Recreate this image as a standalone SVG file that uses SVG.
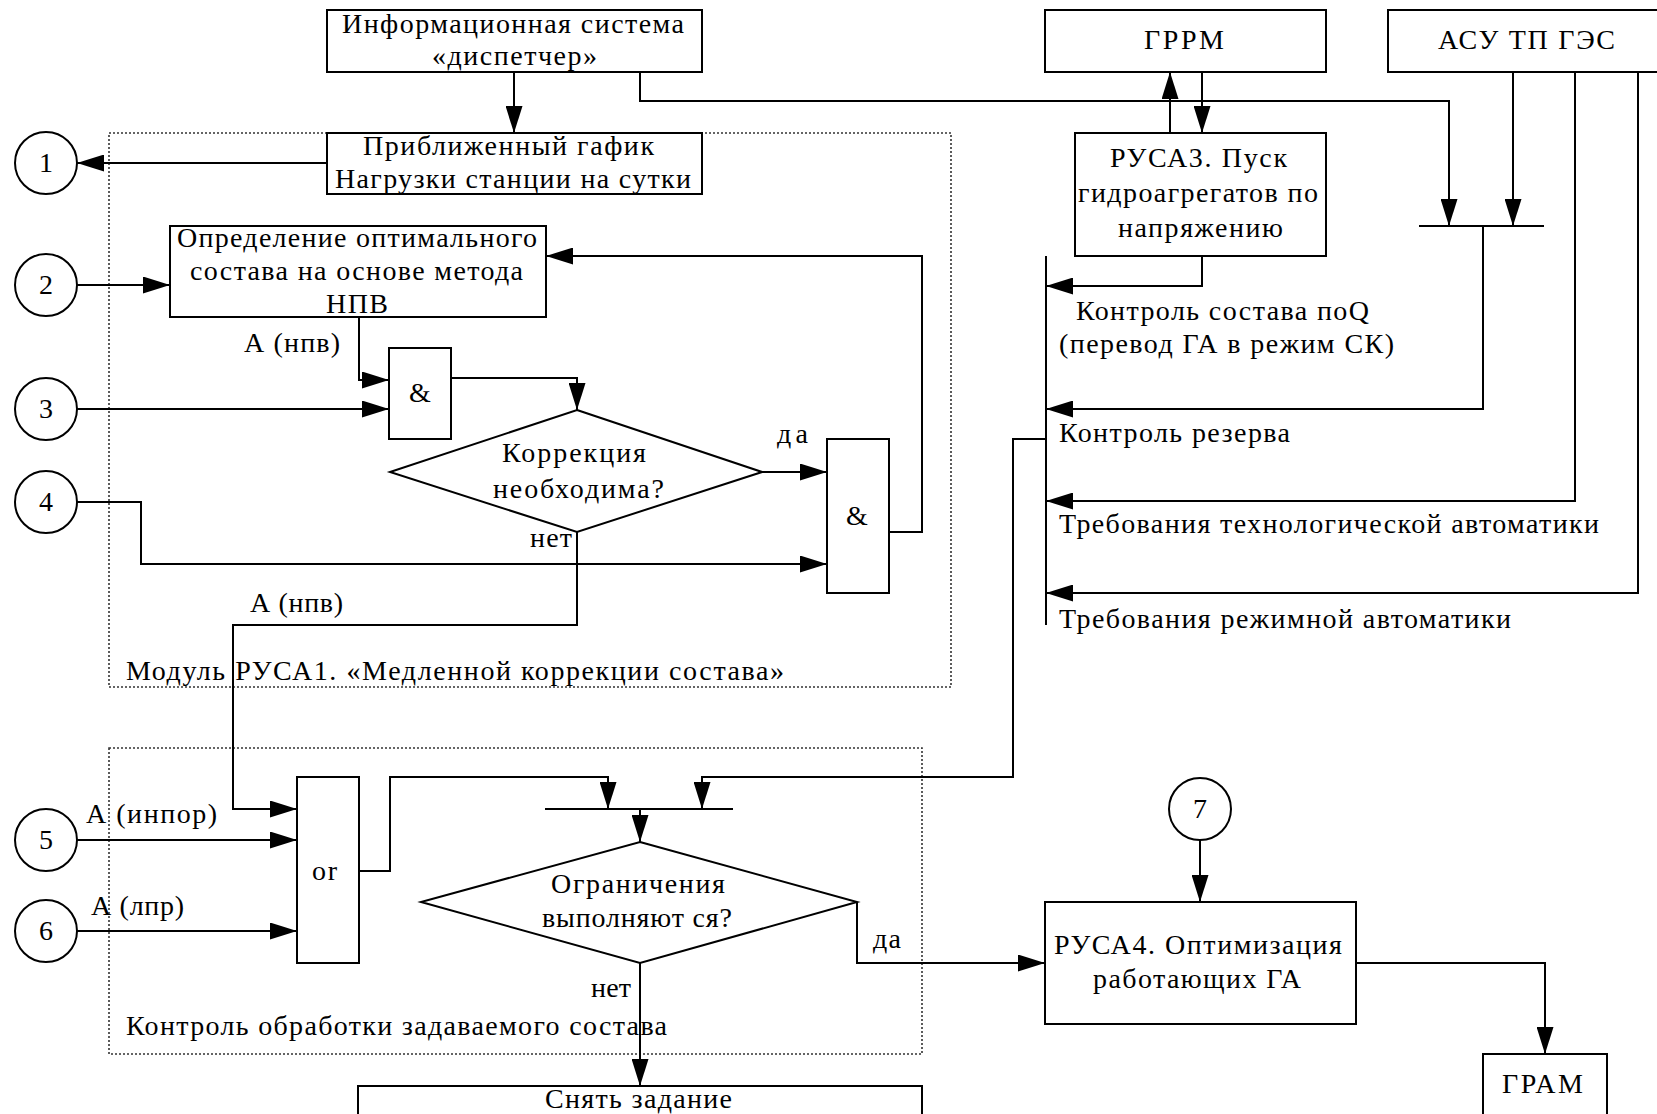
<svg xmlns="http://www.w3.org/2000/svg" width="1657" height="1114" viewBox="0 0 1657 1114">
  <style>
    .box { fill: #fff; stroke: #000; stroke-width: 2; }
    .frame { fill: none; stroke: #333; stroke-width: 1.6; stroke-dasharray: 2 2; }
    .ln { fill: none; stroke: #000; stroke-width: 2; }
    .arr { fill: none; stroke: #000; stroke-width: 2; marker-end: url(#ah); }
    text { font-family: "Liberation Serif", "Times New Roman", serif; font-size: 28px; fill: #000; }
    .c { text-anchor: middle; }
  </style>
  <defs>
    <marker id="ah" markerUnits="userSpaceOnUse" markerWidth="27" markerHeight="17" refX="27" refY="8.5" orient="auto">
      <path d="M0,0 L27,8.5 L0,17 z" fill="#000"/>
    </marker>
  </defs>
  <rect width="1657" height="1114" fill="#fff"/>

  <!-- dotted module frames -->
  <g id="module-rusa1">
    <rect class="frame" x="109" y="133" width="842" height="554"/>
    <text x="126" y="680" textLength="658">Модуль РУСА1.  «Медленной коррекции состава»</text>
  </g>
  <g id="module-control">
    <rect class="frame" x="109" y="748" width="813" height="306"/>
    <text x="126" y="1035" textLength="541">Контроль обработки задаваемого состава</text>
  </g>

  <!-- connectors -->
  <g id="connectors">
    <path class="arr" d="M514,72 V133"/>
    <path class="arr" d="M640,72 V101 H1449 V226"/>
    <path class="arr" d="M1513,72 V226"/>
    <path class="ln" d="M1419,226 H1544"/>
    <path class="arr" d="M1483,226 V409 H1046"/>
    <path class="arr" d="M1575,72 V501 H1046"/>
    <path class="arr" d="M1638,72 V593 H1046"/>
    <path class="ln" d="M1046,256 V625"/>
    <path class="arr" d="M1170,133 V72"/>
    <path class="arr" d="M1202,72 V133"/>
    <path class="arr" d="M1202,256 V286 H1046"/>
    <path class="arr" d="M1046,439 H1013 V777 H702 V809"/>
    <path class="arr" d="M327,163 H77"/>
    <path class="arr" d="M77,285 H170"/>
    <path class="arr" d="M359,317 V380 H389"/>
    <path class="arr" d="M77,409 H389"/>
    <path class="arr" d="M451,378 H577 V410"/>
    <path class="arr" d="M762,472 H827"/>
    <path class="arr" d="M77,502 H141 V564 H827"/>
    <path class="arr" d="M889,532 H922 V256 H546"/>
    <path class="arr" d="M577,532 V625 H233 V809 H297"/>
    <path class="arr" d="M77,840 H297"/>
    <path class="arr" d="M77,931 H297"/>
    <path class="arr" d="M359,871 H390 V777 H608 V809"/>
    <path class="ln" d="M545,809 H733"/>
    <path class="arr" d="M640,809 V842"/>
    <path class="arr" d="M857,902 V963 H1045"/>
    <path class="arr" d="M640,963 V1086"/>
    <path class="arr" d="M1200,840 V902"/>
    <path class="arr" d="M1356,963 H1545 V1054"/>
  </g>

  <!-- connector labels -->
  <g id="labels">
    <text x="244" y="352" textLength="96">А (нпв)</text>
    <text x="777" y="443" textLength="31">да</text>
    <text x="530" y="547" textLength="42">нет</text>
    <text x="250" y="612" textLength="93">А (нпв)</text>
    <text x="86" y="823" textLength="131">А (инпор)</text>
    <text x="91" y="915" textLength="93">А (лпр)</text>
    <text x="873" y="948" textLength="28">да</text>
    <text x="591" y="997" textLength="40">нет</text>
    <text x="1076" y="320" textLength="293">Контроль состава поQ</text>
    <text x="1059" y="353" textLength="335">(перевод ГА в режим СК)</text>
    <text x="1059" y="442" textLength="231">Контроль резерва</text>
    <text x="1059" y="533" textLength="540">Требования технологической автоматики</text>
    <text x="1059" y="628" textLength="452">Требования режимной автоматики</text>
  </g>

  <g id="info-system">
    <rect class="box" x="327" y="10" width="375" height="62"/>
    <text x="342" y="33" textLength="342">Информационная система</text>
    <text x="432" y="65" textLength="165">«диспетчер»</text>
  </g>
  <g id="grrm">
    <rect class="box" x="1045" y="10" width="281" height="62"/>
    <text x="1144" y="49" textLength="80">ГРРМ</text>
  </g>
  <g id="asu-tp">
    <rect class="box" x="1388" y="10" width="300" height="62"/>
    <text x="1438" y="49" textLength="177">АСУ ТП ГЭС</text>
  </g>
  <g id="load-schedule">
    <rect class="box" x="327" y="133" width="375" height="61"/>
    <text x="363" y="155" textLength="291">Приближенный гафик</text>
    <text x="335" y="188" textLength="356">Нагрузки станции на сутки</text>
  </g>
  <g id="optimal-set">
    <rect class="box" x="170" y="226" width="376" height="91"/>
    <text x="177" y="247" textLength="360">Определение оптимального</text>
    <text x="190" y="280" textLength="333">состава на основе метода</text>
    <text x="326" y="313" textLength="62">НПВ</text>
  </g>
  <g id="rusa3">
    <rect class="box" x="1075" y="133" width="251" height="123"/>
    <text x="1110" y="167" textLength="177">РУСА3. Пуск</text>
    <text x="1078" y="202" textLength="240">гидроагрегатов по</text>
    <text x="1118" y="237" textLength="165">напряжению</text>
  </g>
  <g id="and-1">
    <rect class="box" x="389" y="348" width="62" height="91"/>
    <text class="c" x="420" y="402">&amp;</text>
  </g>
  <g id="decision-correction">
    <polygon class="box" points="577,410 762,472 577,532 390,472"/>
    <text x="502" y="462" textLength="144">Коррекция</text>
    <text x="493" y="498" textLength="171">необходима?</text>
  </g>
  <g id="and-2">
    <rect class="box" x="827" y="439" width="62" height="154"/>
    <text class="c" x="857" y="525">&amp;</text>
  </g>
  <g id="or-gate">
    <rect class="box" x="297" y="777" width="62" height="186"/>
    <text x="312" y="880" textLength="25">or</text>
  </g>
  <g id="decision-limits">
    <polygon class="box" points="640,842 857,902 640,963 421,902"/>
    <text x="551" y="893" textLength="174">Ограничения</text>
    <text x="542" y="927" textLength="190">выполняют ся?</text>
  </g>
  <g id="cancel-task">
    <rect class="box" x="358" y="1086" width="564" height="40"/>
    <text x="545" y="1108" textLength="187">Снять задание</text>
  </g>
  <g id="rusa4">
    <rect class="box" x="1045" y="902" width="311" height="122"/>
    <text x="1054" y="954" textLength="288">РУСА4. Оптимизация</text>
    <text x="1093" y="988" textLength="208">работающих ГА</text>
  </g>
  <g id="gram">
    <rect class="box" x="1483" y="1054" width="124" height="80"/>
    <text x="1502" y="1093" textLength="81">ГРАМ</text>
  </g>

  <!-- numbered connector circles -->
  <g id="c1"><circle class="box" cx="46" cy="163" r="31"/><text class="c" x="46" y="172">1</text></g>
  <g id="c2"><circle class="box" cx="46" cy="285" r="31"/><text class="c" x="46" y="294">2</text></g>
  <g id="c3"><circle class="box" cx="46" cy="409" r="31"/><text class="c" x="46" y="418">3</text></g>
  <g id="c4"><circle class="box" cx="46" cy="502" r="31"/><text class="c" x="46" y="511">4</text></g>
  <g id="c5"><circle class="box" cx="46" cy="840" r="31"/><text class="c" x="46" y="849">5</text></g>
  <g id="c6"><circle class="box" cx="46" cy="931" r="31"/><text class="c" x="46" y="940">6</text></g>
  <g id="c7"><circle class="box" cx="1200" cy="809" r="31"/><text class="c" x="1200" y="818">7</text></g>
</svg>
